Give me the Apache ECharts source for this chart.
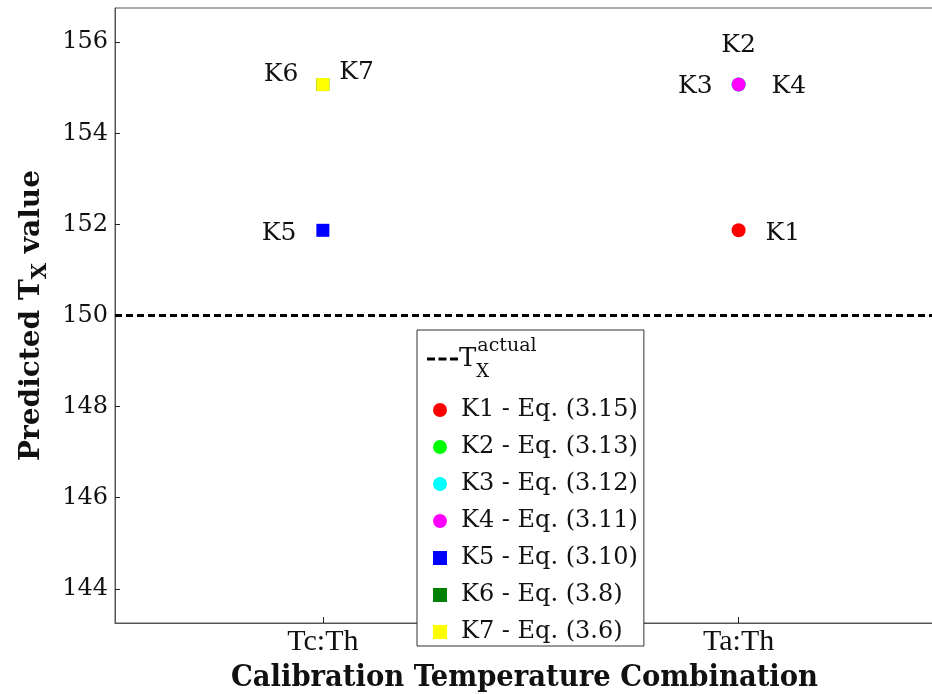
<!DOCTYPE html>
<html>
<head>
<meta charset="utf-8">
<script src="https://cdn.jsdelivr.net/npm/echarts@6/dist/echarts.min.js"></script>
<style>
  html, body { margin: 0; padding: 0; background: #fff; }
  #chart { width: 932px; height: 694px; }
</style>
</head>
<body>
<div id="chart"></div>
<script>
// Calibration temperature combinations along the x axis
const combos = ['Tc:Th', 'Ta:Th'];
// One series per calibration equation
const seriesNames = ['K1 - Eq. (3.15)', 'K2 - Eq. (3.13)', 'K3 - Eq. (3.12)', 'K4 - Eq. (3.11)',
                     'K5 - Eq. (3.10)', 'K6 - Eq. (3.8)', 'K7 - Eq. (3.6)'];
const pointLabels = ['K1', 'K2', 'K3', 'K4', 'K5', 'K6', 'K7'];
// Which combination each equation belongs to (index into combos)
const comboOf = [1, 1, 1, 1, 0, 0, 0];
// Predicted T_X value for each equation
const predicted = [151.87, 155.07, 155.07, 155.07, 151.87, 155.07, 155.07];
// Reference (actual) T_X
const actualTx = 150;
const yTicks = [144, 146, 148, 150, 152, 154, 156];

// Styling per series
const colors = ['#ff0000', '#00ff00', '#00ffff', '#ff00ff', '#0000ff', '#008000', '#ffff00'];
const symbols = ['circle', 'circle', 'circle', 'circle', 'rect', 'rect', 'rect'];
const labelPos = ['right', 'top', 'left', 'right', 'left', 'left', 'right'];
const labelDist = [20, 20, 19, 26, 20, 18, 10];
const labelOffset = [[0, 3], [0, 0], [0, 2], [0, 2], [0, 3], [0, -10], [0, -12]];

const serif = '"DejaVu Serif", "Liberation Serif", serif';
const condSerif = '"DejaVu Serif Condensed", "Liberation Serif", serif';
const axisColor = '#555';
// three short dashes used as the legend key of the reference line
const dashIcon = 'path://M0,0h8v3h-8z M11.5,0h8v3h-8z M23,0h8v3h-8z';

const scatterSeries = seriesNames.map((name, i) => ({
  type: 'scatter',
  name: name,
  data: [[comboOf[i] + 1, predicted[i]]],
  symbol: symbols[i],
  symbolSize: symbols[i] === 'circle' ? 14 : 13,
  itemStyle: { color: colors[i], opacity: 1 },
  label: {
    show: true,
    formatter: pointLabels[i],
    position: labelPos[i],
    distance: labelDist[i],
    offset: labelOffset[i],
    color: '#111',
    fontFamily: serif,
    fontSize: 25
  },
  emphasis: { disabled: true },
  z: 3 + i
}));

const option = {
  animation: false,
  backgroundColor: '#fff',
  grid: {
    left: 115, right: -2, top: 8, bottom: 71,
    outerBoundsMode: 'none',
    containLabel: false,
    show: true, borderColor: axisColor, borderWidth: 1, backgroundColor: 'transparent'
  },
  xAxis: {
    type: 'value',
    min: 0.5,
    max: 2.47,
    splitLine: { show: false },
    axisLine: { lineStyle: { color: axisColor } },
    axisTick: { inside: true, length: 6, lineStyle: { color: '#222' }, customValues: [1, 2] },
    axisLabel: {
      customValues: [1, 2],
      formatter: v => combos[Math.round(v) - 1] || '',
      color: '#111', fontFamily: '"Liberation Serif", serif', fontSize: 30, margin: 4
    },
    name: 'Calibration Temperature Combination',
    nameLocation: 'middle',
    nameGap: 40,
    nameTextStyle: { color: '#111', fontFamily: condSerif, fontWeight: 'bold', fontSize: 30.5 }
  },
  yAxis: {
    type: 'value',
    min: actualTx - 6.75,
    max: actualTx + 6.75,
    splitLine: { show: false },
    axisLine: { lineStyle: { color: axisColor } },
    axisTick: { inside: true, length: 5, lineStyle: { color: '#222' }, customValues: yTicks },
    axisLabel: {
      customValues: yTicks,
      color: '#111', fontFamily: serif, fontSize: 24, margin: 7
    },
    name: '{a|Predicted T}{s|X}{a| value}',
    nameLocation: 'middle',
    nameGap: 62,
    nameTextStyle: {
      rich: {
        a: { fontFamily: serif, fontWeight: 'bold', fontSize: 28, color: '#111', lineHeight: 40 },
        s: { fontFamily: serif, fontWeight: 'bold', fontSize: 21, color: '#111', verticalAlign: 'bottom', lineHeight: 22 }
      }
    }
  },
  legend: [
    {
      data: seriesNames.map((n, i) => ({ name: n, icon: symbols[i] === 'circle' ? 'circle' : 'rect',
        itemStyle: { color: colors[i] } })),
      orient: 'vertical',
      left: 417,
      top: 330,
      itemWidth: 14,
      itemHeight: 14,
      itemGap: 13,
      padding: [68, 6, 2, 16],
      backgroundColor: '#fff',
      borderColor: '#333',
      borderWidth: 1,
      borderRadius: 0,
      textStyle: { color: '#111', fontFamily: serif, fontSize: 24, lineHeight: 24, padding: [0, 0, 0, 9] },
      selectedMode: false,
      z: 10
    },
    {
      data: [{ name: 'actual', icon: dashIcon, itemStyle: { color: '#000' } }],
      orient: 'vertical',
      left: 427,
      top: 337,
      itemWidth: 31,
      itemHeight: 3,
      padding: 0,
      selectedMode: false,
      formatter: () => '{t|T}{x|X}{a|actual}',
      textStyle: {
        padding: [0, 0, 0, -4],
        rich: {
          t: { fontFamily: serif, fontSize: 26, color: '#111', lineHeight: 44 },
          x: { fontFamily: serif, fontSize: 18, color: '#111', verticalAlign: 'bottom', lineHeight: 20, width: 1 },
          a: { fontFamily: serif, fontSize: 19, color: '#111', verticalAlign: 'top', lineHeight: 20 }
        }
      },
      z: 11
    }
  ],
  series: [
    {
      type: 'line',
      name: 'actual',
      data: [],
      symbol: 'none',
      lineStyle: { type: [7, 4], width: 3, color: '#000' },
      itemStyle: { color: '#000' },
      markLine: {
        silent: true,
        symbol: 'none',
        label: { show: false },
        lineStyle: { type: [7, 4], width: 3, color: '#000' },
        data: [{ yAxis: actualTx }]
      },
      z: 2
    }
  ].concat(scatterSeries)
};

const chart = echarts.init(document.getElementById('chart'), null, { renderer: 'canvas' });
chart.setOption(option);
</script>
</body>
</html>
